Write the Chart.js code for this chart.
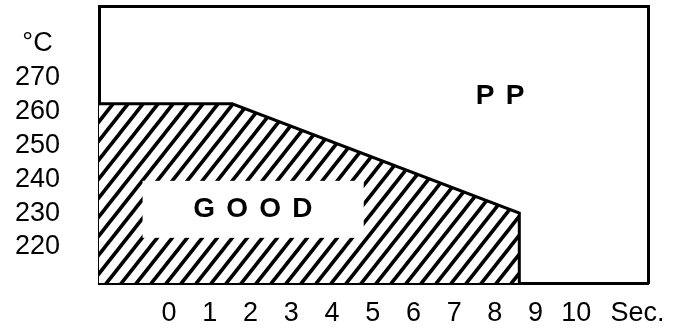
<!DOCTYPE html>
<html>
<head>
<meta charset="utf-8">
<script src="https://cdn.jsdelivr.net/npm/chart.js@4.4.1/dist/chart.umd.min.js"></script>
<style>
  html, body { margin: 0; padding: 0; background: #fff; }
  #chart { display: block; }
</style>
</head>
<body>
<canvas id="chart" width="682" height="329"></canvas>
<script>
// Axis range (seconds / degrees C)
const xMin = -1.72, xMax = 11.76;
const yMin = 209.4, yMax = 291;

// Tick labels
const secondTicks = [0, 1, 2, 3, 4, 5, 6, 7, 8, 9, 10];
const secUnitAt = 11.5;
const tempTicks = [220, 230, 240, 250, 260, 270];
const degUnitAt = 280;

// Outline of the "good" moulding window
const goodSeconds = [xMin, 1.55, 8.6, 8.6];
const goodTemps = [262.2, 262.2, 230, yMin];

// Region labels
const regionNames = ['G O O D', 'P P'];
const regionSeconds = [2.08, 8.15];
const regionTemps = [231.1, 264.5];
// white box behind the GOOD label: [x1, x2, y1, y2]
const goodBox = [-0.65, 4.78, 239.5, 222.7];

const ctx = document.getElementById('chart').getContext('2d');

// diagonal hatch pattern
function makeHatch() {
    const w = 15, h = 19;
    const c = document.createElement('canvas');
    c.width = w; c.height = h;
    const g = c.getContext('2d');
    g.fillStyle = '#fff';
    g.fillRect(0, 0, w, h);
    g.strokeStyle = '#000';
    g.lineWidth = 3.6;
    for (let k = -1; k <= 1; k++) {
        g.beginPath();
        g.moveTo(-w + k * w, 2 * h);
        g.lineTo(2 * w + k * w, -h);
        g.stroke();
    }
    return ctx.createPattern(c, 'repeat');
}

const labelPlugin = {
    id: 'regionLabels',
    afterDatasetsDraw(chart) {
        const c = chart.ctx;
        const xs = chart.scales.x, ys = chart.scales.y;
        c.save();
        const bx1 = xs.getPixelForValue(goodBox[0]), bx2 = xs.getPixelForValue(goodBox[1]);
        const by1 = ys.getPixelForValue(goodBox[2]), by2 = ys.getPixelForValue(goodBox[3]);
        c.fillStyle = '#fff';
        c.fillRect(bx1, by1, bx2 - bx1, by2 - by1);
        c.fillStyle = '#000';
        c.font = 'bold 28px "Liberation Sans", Arial, sans-serif';
        c.textAlign = 'center';
        c.textBaseline = 'middle';
        if ('letterSpacing' in c) c.letterSpacing = '1.7px';
        regionNames.forEach((name, i) => {
            c.fillText(name, xs.getPixelForValue(regionSeconds[i]), ys.getPixelForValue(regionTemps[i]));
        });
        c.restore();
    }
};

const tickFont = { family: '"Liberation Sans", Arial, sans-serif', size: 27 };
const frame = { display: true, color: '#000', width: 3 };

// the unit labels sit inside the range, so no extra room is needed for overhanging labels
function noOverhang(scale) {
    scale.paddingTop = 0;
    scale.paddingBottom = 0;
    scale.paddingLeft = 0;
    scale.paddingRight = 0;
}

new Chart(ctx, {
    type: 'line',
    data: {
        datasets: [{
            data: goodSeconds.map((s, i) => ({ x: s, y: goodTemps[i] })),
            borderColor: '#000',
            borderWidth: 3,
            backgroundColor: makeHatch(),
            fill: 'start',
            pointRadius: 0,
            tension: 0
        }]
    },
    options: {
        responsive: false,
        animation: false,
        devicePixelRatio: 1,
        layout: { padding: { left: 15, right: 34, top: 6, bottom: 0 } },
        plugins: { legend: { display: false }, tooltip: { enabled: false } },
        scales: {
            x: {
                type: 'linear',
                position: 'bottom',
                min: xMin,
                max: xMax,
                grid: { display: false, drawTicks: false },
                border: frame,
                afterBuildTicks: scale => {
                    scale.ticks = secondTicks.concat([secUnitAt]).map(v => ({ value: v }));
                },
                afterFit: scale => {
                    noOverhang(scale);
                    scale.height = 46;
                },
                ticks: {
                    font: tickFont,
                    color: '#000',
                    padding: 14,
                    autoSkip: false,
                    maxRotation: 0,
                    callback: v => (v === secUnitAt ? 'Sec.' : String(v))
                }
            },
            y: {
                type: 'linear',
                position: 'left',
                min: yMin,
                max: yMax,
                grid: { display: false, drawTicks: false },
                border: frame,
                afterBuildTicks: scale => {
                    scale.ticks = tempTicks.concat([degUnitAt]).map(v => ({ value: v }));
                },
                afterFit: scale => {
                    noOverhang(scale);
                    scale.width = 84;
                },
                ticks: {
                    font: tickFont,
                    color: '#000',
                    padding: 39,
                    crossAlign: 'center',
                    autoSkip: false,
                    callback: v => (v === degUnitAt ? '°C' : String(v))
                }
            },
            xTop: {
                type: 'linear',
                position: 'top',
                grid: { display: false, drawTicks: false },
                border: frame,
                ticks: { display: false }
            },
            yRight: {
                type: 'linear',
                position: 'right',
                grid: { display: false, drawTicks: false },
                border: frame,
                ticks: { display: false }
            }
        }
    },
    plugins: [labelPlugin]
});
</script>
</body>
</html>
